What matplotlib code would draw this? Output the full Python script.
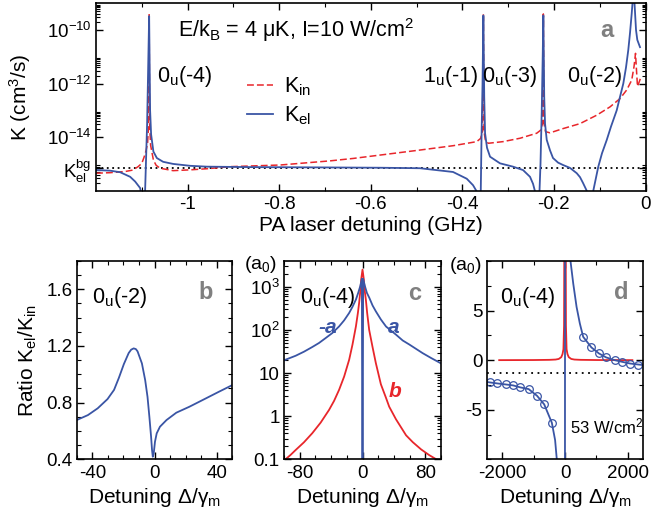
import matplotlib
matplotlib.use('Agg')
import matplotlib.pyplot as plt
from matplotlib.ticker import FixedLocator, MultipleLocator, LogLocator, NullFormatter

# ---------------- data ----------------
# panel a : K_el and K_in vs PA laser detuning (GHz)
kel_x = [-1.2, -1.1694, -1.1474, -1.1255, -1.1146, -1.1037, -1.0993, -1.097, -1.0928, -1.0884,
         -1.0862, -1.0840, -1.0819, -1.0797, -1.0747, -1.0672, -1.0535, -1.0317, -0.9945, -0.958,
         -0.8636, -0.7107, -0.58, -0.4924, -0.4203, -0.3904, -0.3766, -0.3679, -0.3614, -0.3581,
         -0.3559, -0.3541, -0.3522, -0.3504, -0.3461, -0.3395, -0.3177, -0.2893, -0.2675, -0.2522,
         -0.2456, -0.2402, -0.2358, -0.2293, -0.2266, -0.2245, -0.2231, -0.2212, -0.2194, -0.2157,
         -0.2085, -0.2020, -0.1910, -0.1801, -0.1649, -0.1502, -0.143, -0.1365, -0.1284, -0.1212,
         -0.114, -0.1031, -0.095, -0.0847, -0.0753, -0.0629, -0.0557, -0.0485, -0.0426, -0.0376,
         -0.0338, -0.0301, -0.0279, -0.0262, -0.024, -0.0207, -0.0179, -0.012]
kel_y = [5.9e-16, 5.6e-16, 4.9e-16, 3.3e-16, 2.2e-16, 1.26e-16, 5e-17, 1e-18, 1e-16, 3.2e-14,
         3.2e-12, 3.3e-10, 1e-13, 1.26e-14, 2.9e-15, 1.66e-15, 1.2e-15, 1.0e-15, 8.5e-16, 7.9e-16,
         7.6e-16, 7.4e-16, 7.2e-16, 6.9e-16, 5.0e-16, 2.8e-16, 1.6e-16, 8.9e-17, 1e-18, 1e-14,
         1e-12, 3.5e-10, 3.2e-13, 1.4e-14, 4e-15, 1.86e-15, 1.05e-15, 7.9e-16, 5.9e-16, 3.3e-16,
         1.8e-16, 8e-17, 1e-18, 1e-15, 1e-13, 1e-11, 3.5e-10, 3.2e-13, 3.2e-14, 7.9e-15,
         3.2e-15, 1.66e-15, 1.12e-15, 9.1e-16, 7.1e-16, 4.5e-16, 3.2e-16, 1.95e-16, 1e-16, 1e-18,
         1e-16, 7.9e-16, 2.5e-15, 7.8e-15, 2.5e-14, 1.0e-13, 3.2e-13, 1.0e-12, 4e-12, 1.8e-11,
         7.9e-11, 4.2e-10, 1.3e-9, 1e-8, 1e-9, 1e-10, 4.3e-11, 2.3e-11]
kin_x = [-1.2, -1.1694, -1.1365, -1.1194, -1.1081, -1.1, -1.095, -1.0906, -1.0873, -1.0851,
         -1.084, -1.0830, -1.0808, -1.0775, -1.0747, -1.0688, -1.0601, -1.0317, -0.9945, -0.958,
         -0.9072, -0.798, -0.6889, -0.6386, -0.5651, -0.4924, -0.4197, -0.3686, -0.3603, -0.3559,
         -0.3541, -0.3526, -0.3493, -0.3432, -0.3111, -0.274, -0.2376, -0.2293, -0.2249, -0.2231,
         -0.2216, -0.2183, -0.2085, -0.1795, -0.143, -0.1066, -0.0775, -0.0557, -0.041, -0.0301,
         -0.0251, -0.0218, -0.0197, -0.0175, -0.0142, -0.0098]
kin_y = [4.5e-16, 4.7e-16, 5.2e-16, 5.9e-16, 7.9e-16, 1.05e-15, 1.8e-15, 3.2e-15, 6.3e-15, 3.2e-14,
         4e-10, 3.2e-14, 5e-15, 2.5e-15, 1.4e-15, 8.9e-16, 6.9e-16, 5.6e-16, 6e-16, 6.6e-16,
         7.9e-16, 9.1e-16, 1.3e-15, 1.6e-15, 2.3e-15, 3.3e-15, 4.8e-15, 6.8e-15, 8.9e-15, 1.6e-14,
         4e-10, 1.6e-14, 7.1e-15, 5.9e-15, 6.8e-15, 9.1e-15, 1.4e-14, 1.8e-14, 3.2e-14, 4e-10,
         3.2e-14, 1.6e-14, 1.45e-14, 2.1e-14, 3.2e-14, 6.6e-14, 1.35e-13, 2.75e-13, 5.8e-13, 1.35e-12,
         4.3e-12, 1.35e-11, 3.2e-12, 7.9e-13, 1.1e-12, 1.8e-12]
kel_bg = 7.2e-16

# panel b : ratio K_el/K_in for 0u(-2)
b_x = [-50, -42.8, -36.5, -30.2, -26.0, -22.9, -19.7, -16.6, -15.0, -13.4, -12.0, -10.9, -8.1,
       -6.0, -4.5, -3.3, -2.2, -1.6, -1.1, -0.5, 0.3, 1.4, 3.5, 7.7, 14.0, 22.4, 33.0, 41.4, 50]
b_y = [0.677, 0.712, 0.760, 0.825, 0.890, 0.975, 1.072, 1.150, 1.174, 1.183, 1.178, 1.162,
       1.077, 0.959, 0.841, 0.700, 0.559, 0.466, 0.418, 0.442, 0.524, 0.583, 0.630, 0.677,
       0.729, 0.771, 0.830, 0.877, 0.924]

# panel c : |a| and b (a0) for 0u(-4)
ca_x = [-101.5, -93.8, -85.2, -74.6, -64.0, -55.4, -46.8, -38.4, -29.8, -23.4, -17.0, -12.8,
        -8.4, -5.5, -2.9, -0.8, 0, 0.8, 3.1, 5.6, 8.6, 12.8, 17, 23.5, 30, 42.6, 51.2, 59.6,
        76.6, 87.5, 101.5]
ca_y = [19.3, 21.9, 25.2, 31.3, 40.2, 49.9, 65.2, 85, 121, 167, 248, 343, 507, 724, 1033, 1535,
        0.001, 1535, 1033, 724, 560, 370, 270, 174, 120, 78, 57, 46, 29, 22.3, 16.2]
cb_x = [-101.5, -98.1, -91.7, -85.2, -74.6, -64.0, -53.3, -42.6, -36.2, -29.8, -23.4, -17.0,
        -12.8, -8.4, -5.9, -4.3, -2.6, -1.7, 0, 1.7, 2.6, 4.3, 5.9, 8.5, 12.8, 17, 23.4, 29.8,
        34, 42.6, 55.5, 64, 74.6, 85, 94, 101.5]
cb_y = [0.088, 0.1, 0.126, 0.164, 0.248, 0.403, 0.71, 1.40, 2.27, 4.1, 8.3, 20.4, 45.5, 121,
        248, 425, 865, 1480, 2510, 1480, 865, 500, 250, 100, 40, 17, 5.5, 2.7, 1.66, 0.85, 0.36,
        0.25, 0.17, 0.125, 0.1, 0.088]

# panel d : a (line + points) and b (a0), 53 W/cm2
da_x = [-2500, -2392, -2158, -1896, -1653, -1422, -1160, -894, -664, -420, -316, -262, -150,
        -60, -15, 0, 15, 60, 150, 180, 263, 369, 474, 580, 843, 1085, 1317, 1580, 1822, 2075,
        2338, 2500]
da_y = [-2.2, -2.25, -2.35, -2.45, -2.55, -2.75, -2.92, -3.59, -4.46, -6.31, -8.06, -10.0, -17,
        -41, -160, 0, 160, 41, 17, 9.87, 7.72, 5.37, 3.69, 2.35, 1.28, 0.67, 0.27, 0.0, -0.17,
        -0.34, -0.44, -0.5]
dpt_x = [-2392, -2158, -1896, -1653, -1422, -1160, -894, -664, -420, 580, 843, 1085, 1317, 1580,
         1822, 2075, 2338]
dpt_y = [-2.25, -2.35, -2.45, -2.55, -2.75, -2.92, -3.59, -4.46, -6.31, 2.35, 1.28, 0.67, 0.27,
         0.0, -0.17, -0.34, -0.44]
db_x = [-2100, -1000, -500, -300, -200, -120, -80, -50, -30, -15, 0, 15, 30, 50, 80, 120, 200,
        300, 500, 1000, 2150]
db_y = [0.0, 0.01, 0.03, 0.06, 0.12, 0.3, 0.6, 1.1, 3.5, 20, 2500, 20, 3.5, 1.1, 0.6, 0.3, 0.12,
        0.06, 0.03, 0.01, 0.0]
a_bg = -1.3

# ---------------- style ----------------
plt.rcParams.update({
    'font.family': ['Liberation Sans', 'DejaVu Sans'],
    'mathtext.fontset': 'custom',
    'mathtext.rm': 'Liberation Sans',
    'mathtext.it': 'Liberation Sans:italic',
    'mathtext.bf': 'Liberation Sans:bold',
    'mathtext.sf': 'Liberation Sans',
    'axes.linewidth': 1.2,
    'xtick.direction': 'in', 'ytick.direction': 'in',
    'xtick.top': True, 'ytick.right': True,
    'xtick.major.size': 5, 'ytick.major.size': 5,
    'xtick.minor.size': 3, 'ytick.minor.size': 3,
    'xtick.major.width': 1.0, 'ytick.major.width': 1.0,
    'xtick.minor.width': 0.8, 'ytick.minor.width': 0.8,
    'xtick.major.pad': 4, 'ytick.major.pad': 3,
    'xtick.labelsize': 13.5, 'ytick.labelsize': 13.5,
    'axes.labelsize': 15,
})
BLUE = '#3a55a5'
RED = '#e8262b'
GRAY = '#808080'
FS = 15.5

fig = plt.figure(figsize=(6.55, 5.23), dpi=100)

# ---------------- panel a ----------------
ax = fig.add_axes([0.1466, 0.6354, 0.8389, 0.3583])
ax.set_yscale('log')
ax.axhline(kel_bg, color='black', lw=1.3, ls=(0, (1, 2)))
l_in, = ax.plot(kin_x, kin_y, color=RED, lw=1.1, dashes=(4.5, 2))
l_el, = ax.plot(kel_x, kel_y, color=BLUE, lw=1.3)
ax.set_xlim(-1.2, 0)
ax.set_ylim(1e-16, 1e-9)
ax.set_xticks([-1, -0.8, -0.6, -0.4, -0.2, 0])
ax.set_xticklabels(['-1', '-0.8', '-0.6', '-0.4', '-0.2', '0'])
ax.xaxis.set_minor_locator(FixedLocator([-1.1, -0.9, -0.7, -0.5, -0.3, -0.1]))
ax.set_yticks([kel_bg, 1e-14, 1e-12, 1e-10])
ax.set_yticklabels([r'K$_\mathrm{el}^\mathrm{bg}$', r'10$^{-14}$', r'10$^{-12}$', r'10$^{-10}$'])
ax.yaxis.set_minor_locator(FixedLocator([k * 10.0 ** e for e in (-16, -14, -12, -10)
                                         for k in range(2, 10)]))
ax.yaxis.set_minor_formatter(NullFormatter())
ax.set_xlabel('PA laser detuning (GHz)')
ax.xaxis.set_label_coords(0.5, -0.135)
ax.set_ylabel(r'K (cm$^3$/s)')
ax.yaxis.set_label_coords(-0.115, 0.5)
ax.text(0.149, 0.858, r'E/k$_\mathrm{B}$ = 4 μK, I=10 W/cm$^2$', transform=ax.transAxes,
        fontsize=FS, va='center', ha='left')
for lab, xf in [('0$_\\mathrm{u}$(-4)', 0.1105), ('1$_\\mathrm{u}$(-1)', 0.5956),
                ('0$_\\mathrm{u}$(-3)', 0.7019), ('0$_\\mathrm{u}$(-2)', 0.8566)]:
    ax.text(xf, 0.582, lab, transform=ax.transAxes, fontsize=FS, ha='left', va='baseline')
ax.text(0.941, 0.82, 'a', transform=ax.transAxes, fontsize=17, fontweight='bold', color=GRAY,
        ha='right', va='baseline')
ax.legend([l_in, l_el], [r'K$_\mathrm{in}$', r'K$_\mathrm{el}$'], loc='upper left',
          bbox_to_anchor=(0.275, 0.615), frameon=False, handlelength=1.2, handletextpad=0.5,
          labelspacing=0.3, borderpad=0, borderaxespad=0, fontsize=FS)

# ---------------- panel b ----------------
axb = fig.add_axes([0.1171, 0.1218, 0.2376, 0.3792])
axb.plot(b_x, b_y, color=BLUE, lw=1.3)
axb.set_xlim(-50, 50)
axb.set_ylim(0.4, 1.8)
axb.set_xticks([-40, 0, 40])
axb.set_xticklabels(['-40', '0', '40'])
axb.xaxis.set_minor_locator(MultipleLocator(10))
axb.set_yticks([0.4, 0.8, 1.2, 1.6])
axb.set_yticklabels(['0.4', '0.8', '1.2', '1.6'])
axb.yaxis.set_minor_locator(MultipleLocator(0.1))
axb.set_ylabel(r'Ratio K$_\mathrm{el}$/K$_\mathrm{in}$')
axb.yaxis.set_label_coords(-0.24, 0.5)
axb.text(0.096, 0.79, '0$_\\mathrm{u}$(-2)', transform=axb.transAxes, fontsize=FS,
         va='baseline')
axb.text(0.878, 0.808, 'b', transform=axb.transAxes, fontsize=17, fontweight='bold',
         color=GRAY, ha='right', va='baseline')

# ---------------- panel c ----------------
axc = fig.add_axes([0.4336, 0.1218, 0.2397, 0.3792])
axc.set_yscale('log')
axc.plot(cb_x, cb_y, color=RED, lw=1.3)
axc.plot(ca_x, ca_y, color=BLUE, lw=1.3)
axc.set_xlim(-100, 100)
axc.set_ylim(0.1, 10 ** 3.6)
axc.set_xticks([-80, 0, 80])
axc.set_xticklabels(['-80', '0', '80'])
axc.xaxis.set_minor_locator(MultipleLocator(20))
axc.set_yticks([0.1, 1, 10, 100, 1000])
axc.set_yticklabels(['0.1', '1', '10', r'10$^2$', r'10$^3$'])
axc.yaxis.set_minor_locator(LogLocator(base=10, subs=range(2, 10)))
axc.yaxis.set_minor_formatter(NullFormatter())
axc.text(-0.045, 0.98, '(a$_0$)', transform=axc.transAxes, fontsize=14, ha='right',
         va='center')
axc.text(0.102, 0.788, '0$_\\mathrm{u}$(-4)', transform=axc.transAxes, fontsize=FS,
         va='baseline')
axc.text(0.876, 0.803, 'c', transform=axc.transAxes, fontsize=17, fontweight='bold',
         color=GRAY, ha='right', va='baseline')
axc.text(0.277, 0.667, '-a', transform=axc.transAxes, fontsize=15, fontweight='bold',
         style='italic', color=BLUE, ha='center', va='center')
axc.text(0.70, 0.667, 'a', transform=axc.transAxes, fontsize=15, fontweight='bold',
         style='italic', color=BLUE, ha='center', va='center')
axc.text(0.707, 0.341, 'b', transform=axc.transAxes, fontsize=15, fontweight='bold',
         style='italic', color=RED, ha='center', va='center')

# ---------------- panel d ----------------
axd = fig.add_axes([0.743, 0.1218, 0.2392, 0.3792])
axd.axhline(a_bg, color='black', lw=1.3, ls=(0, (1, 2.5)))
axd.plot(db_x, db_y, color=RED, lw=1.3)
axd.plot(da_x, da_y, color=BLUE, lw=1.3)
axd.plot(dpt_x, dpt_y, ls='none', marker='o', ms=5.5, mfc='none', mec=BLUE, mew=0.9)
axd.set_xlim(-2500, 2500)
axd.set_ylim(-10, 10)
axd.set_xticks([-2000, 0, 2000])
axd.set_xticklabels(['-2000', '0', '2000'])
axd.xaxis.set_minor_locator(MultipleLocator(1000))
axd.set_yticks([-5, 0, 5])
axd.set_yticklabels(['-5', '0', '5'])
axd.yaxis.set_minor_locator(MultipleLocator(2.5))
axd.text(-0.03, 0.975, '(a$_0$)', transform=axd.transAxes, fontsize=14, ha='right',
         va='center')
axd.text(0.085, 0.786, '0$_\\mathrm{u}$(-4)', transform=axd.transAxes, fontsize=FS,
         va='baseline')
axd.text(0.904, 0.81, 'd', transform=axd.transAxes, fontsize=17, fontweight='bold',
         color=GRAY, ha='right', va='baseline')
axd.text(0.532, 0.131, '53 W/cm$^2$', transform=axd.transAxes, fontsize=12, va='baseline')

for a_ in (axb, axc, axd):
    a_.set_xlabel(r'Detuning Δ/γ$_\mathrm{m}$')
    a_.xaxis.set_label_coords(0.5, -0.135)

fig.savefig('out.png', dpi=100)
